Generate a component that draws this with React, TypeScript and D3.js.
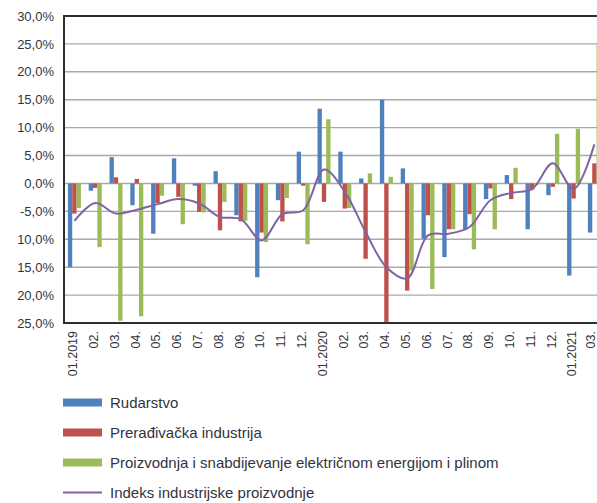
import React from "react";
import * as d3 from "d3";

// Monthly categories (x axis)
const months = [
  "01.2019", "02.", "03.", "04.", "05.", "06.", "07.", "08.", "09.", "10.", "11.", "12.",
  "01.2020", "02.", "03.", "04.", "05.", "06.", "07.", "08.", "09.", "10.", "11.", "12.",
  "01.2021", "03.",
];
const monthKeys = months.map((m, i) => `${i}-${m}`);

// Year-on-year change, %
const rudarstvo = [
  -15.0, -1.3, 4.7, -3.9, -9.0, 4.5, -0.4, 2.2, -5.7, -16.8, -3.0, 5.7,
  13.4, 5.7, 0.9, 15.0, 2.7, -9.9, -13.2, -8.2, -2.8, 1.5, -8.2, -2.1,
  -16.5, -8.8,
];
const preradjivacka = [
  -5.4, -0.8, 1.1, 0.8, -3.5, -2.4, -5.1, -8.4, -6.8, -8.8, -6.8, -0.4,
  -3.3, -4.5, -13.5, -24.8, -19.2, -5.7, -8.2, -5.5, -0.9, -2.8, -1.1, -0.6,
  -2.7, 3.6,
];
const energija = [
  -4.4, -11.4, -24.6, -23.8, -2.2, -7.3, -5.2, -3.3, -6.7, -10.5, -2.6, -10.9,
  11.5, -4.4, 1.8, 1.2, -15.6, -18.9, -8.2, -11.8, -8.2, 2.8, -0.3, 8.9,
  9.8, 25.3,
];
const indeks = [
  -6.7, -3.5, -5.4, -4.7, -3.7, -2.8, -3.6, -6.0, -6.4, -10.2, -5.5, -4.8,
  2.5, -1.5, -8.7, -15.0, -17.0, -9.3, -9.0, -7.8, -3.0, -1.7, -1.0, 3.6,
  -1.0, 7.0,
];

// Y axis ticks and their printed labels
const yTicks = [30, 25, 20, 15, 10, 5, 0, -5, -10, -15, -20, -25];
const yTickLabels = [
  "30,0%", "25,0%", "20,0%", "15,0%", "10,0%", "5,0%", "0,0%",
  "-5,0%", "10,0%", "15,0%", "20,0%", "25,0%",
];

const barSeries = [
  { name: "Rudarstvo", values: rudarstvo, color: "#4F81BD" },
  { name: "Prerađivačka industrija", values: preradjivacka, color: "#C0504D" },
  {
    name: "Proizvodnja i snabdijevanje električnom energijom i plinom",
    values: energija,
    color: "#9BBB59",
  },
];
const lineSeries = { name: "Indeks industrijske proizvodnje", values: indeks, color: "#8064A2" };

const W = 597;
const H = 503;
const plot = { left: 64, top: 16, right: 604.8, bottom: 323 };
const FONT = "'Liberation Sans', Arial, sans-serif";
const TEXT = "#333340";

export default function App() {
  const x = d3
    .scaleBand<string>()
    .domain(monthKeys)
    .range([plot.left, plot.right])
    .paddingInner(0.375)
    .paddingOuter(0.1875);
  const xSub = d3
    .scaleBand<string>()
    .domain(barSeries.map((s) => s.name))
    .range([0, x.bandwidth()]);
  const y = d3.scaleLinear().domain([-25, 30]).range([plot.bottom, plot.top]);

  const line = d3
    .line<number>()
    .x((_, i) => (x(monthKeys[i]) as number) + x.bandwidth() / 2)
    .y((v) => y(v))
    .curve(d3.curveCatmullRom.alpha(0.5));

  const legendItems = [
    ...barSeries.map((s) => ({ name: s.name, color: s.color, kind: "bar" })),
    { name: lineSeries.name, color: lineSeries.color, kind: "line" },
  ];

  return (
    <svg
      width={W}
      height={H}
      viewBox={`0 0 ${W} ${H}`}
      style={{ position: "absolute", left: 0, top: 0, background: "#fff" }}
    >
      <rect x={0} y={0} width={W} height={H} fill="#fff" />

      {/* gridlines */}
      {yTicks.map((t) => (
        <line
          key={`g${t}`}
          x1={plot.left}
          x2={plot.right}
          y1={y(t)}
          y2={y(t)}
          stroke="#a9a9a9"
          strokeWidth={1.4}
        />
      ))}

      {/* y tick labels */}
      {yTicks.map((t, i) => (
        <text
          key={`yl${t}`}
          x={54}
          y={y(t)}
          dy="0.36em"
          textAnchor="end"
          fontFamily={FONT}
          fontSize={13}
          fill={TEXT}
        >
          {yTickLabels[i]}
        </text>
      ))}

      {/* bars */}
      {barSeries.map((s) =>
        s.values.map((v, i) => {
          const x0 = (x(monthKeys[i]) as number) + (xSub(s.name) as number);
          const y0 = y(Math.max(0, v));
          const h = Math.abs(y(v) - y(0));
          return (
            <rect
              key={`${s.name}-${i}`}
              x={x0}
              y={y0}
              width={xSub.bandwidth()}
              height={h}
              fill={s.color}
            />
          );
        })
      )}

      {/* index line */}
      <path
        d={line(lineSeries.values) ?? ""}
        fill="none"
        stroke={lineSeries.color}
        strokeWidth={2}
      />

      {/* plot frame */}
      <rect
        x={plot.left}
        y={plot.top}
        width={plot.right - plot.left}
        height={plot.bottom - plot.top}
        fill="none"
        stroke="#2e2e2e"
        strokeWidth={2}
      />

      {/* x tick labels */}
      {months.map((m, i) => {
        const cx = Math.min((x(monthKeys[i]) as number) + x.bandwidth() / 2 - 1.5, 591);
        return (
          <text
            key={`xl${i}`}
            transform={`translate(${cx},331) rotate(-90)`}
            dy="0.34em"
            textAnchor="end"
            fontFamily={FONT}
            fontSize={12.5}
            fill={TEXT}
          >
            {m}
          </text>
        );
      })}

      {/* legend */}
      {legendItems.map((it, i) => {
        const cy = 402.5 + i * 30;
        return (
          <g key={it.name}>
            {it.kind === "bar" ? (
              <rect x={63} y={cy - 4} width={39} height={8} fill={it.color} />
            ) : (
              <line x1={63} x2={102} y1={cy} y2={cy} stroke={it.color} strokeWidth={2} />
            )}
            <text
              x={110}
              y={cy}
              dy="0.36em"
              fontFamily={FONT}
              fontSize={15}
              fill={TEXT}
            >
              {it.name}
            </text>
          </g>
        );
      })}
    </svg>
  );
}
